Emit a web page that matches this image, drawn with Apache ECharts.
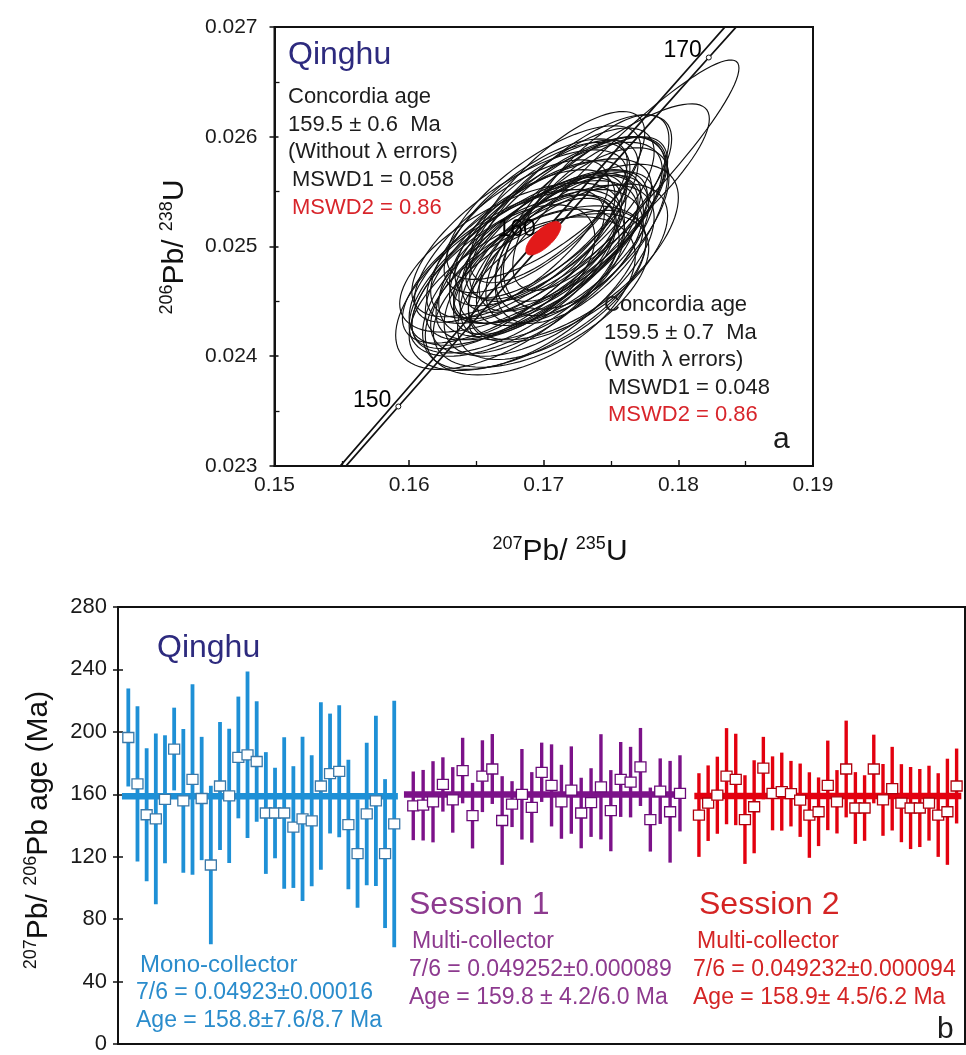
<!DOCTYPE html>
<html><head><meta charset="utf-8">
<script src="https://cdn.jsdelivr.net/npm/echarts@6/dist/echarts.min.js"></script>
<style>html,body{margin:0;padding:0;background:#fff}#c{width:966px;height:1055px}</style>
</head><body><div id="c"></div>
<script>
// ---------- Panel a: concordia diagram data ----------
const xTicksA = [0.15, 0.16, 0.17, 0.18, 0.19];
const yTicksA = [0.023, 0.024, 0.025, 0.026, 0.027];
// concordia curve (207Pb/235U, 206Pb/238U) at ages (Ma)
const concAge = [145, 150, 155, 160, 165, 170, 175];
const concX = [0.15350, 0.15920, 0.16492, 0.17067, 0.17645, 0.18226, 0.18809];
const concY = [0.022748, 0.023542, 0.024335, 0.025131, 0.025926, 0.026722, 0.027519];
// second (decay-constant error) line of the concordia band
const envX = [0.15310, 0.15872, 0.16434, 0.17001, 0.17571, 0.18146, 0.18719];
const envY = [0.022748, 0.023542, 0.024335, 0.025131, 0.025926, 0.026722, 0.027519];
const markAges = [150, 160, 170];
const markX = [0.15920, 0.17067, 0.18226];
const markY = [0.023542, 0.025131, 0.026722];
// analysis error ellipses: centre x, centre y, half-extent x, half-extent y, correlation
const ellCx = [0.1690,0.1700,0.1685,0.1710,0.1695,0.1705,0.1680,0.1715,0.1692,0.1698,
               0.1688,0.1712,0.1720,0.1702,0.1675,0.1683,0.1696,0.1708,0.1725,0.1730,
               0.1678,0.1690,0.1704,0.1716,0.1682,0.1700,0.1710,0.1693,0.1718,0.1686,
               0.1699,0.1712,0.1676,0.1722,0.1694,0.1706,0.1745,0.1728,
               0.1712,0.1722,0.1680,0.1675,0.1690,0.1728,0.1670,0.1735];
const ellCy = [0.02495,0.02505,0.02480,0.02515,0.02490,0.02500,0.02485,0.02520,0.02470,0.02460,
               0.02462,0.02530,0.02535,0.02525,0.02490,0.02500,0.02512,0.02490,0.02510,0.02525,
               0.02475,0.02515,0.02478,0.02498,0.02512,0.02540,0.02545,0.02482,0.02485,0.02468,
               0.02498,0.02505,0.02505,0.02495,0.02528,0.02465,0.02545,0.02532,
               0.02492,0.02505,0.02478,0.02470,0.02455,0.02515,0.02482,0.02540];
const ellSx = [0.0090,0.0088,0.0085,0.0080,0.0075,0.0072,0.0078,0.0076,0.0082,0.0080,
               0.0088,0.0070,0.0075,0.0068,0.0082,0.0070,0.0066,0.0070,0.0068,0.0062,
               0.0076,0.0074,0.0078,0.0066,0.0080,0.0072,0.0065,0.0060,0.0074,0.0070,
               0.0062,0.0060,0.0072,0.0078,0.0068,0.0070,0.0100,0.0095,
               0.0048,0.0052,0.0058,0.0085,0.0078,0.0064,0.0075,0.0058];
const ellSy = [0.00085,0.00090,0.00080,0.00085,0.00075,0.00070,0.00078,0.00080,0.00082,0.00070,
               0.00075,0.00078,0.00085,0.00072,0.00068,0.00070,0.00066,0.00075,0.00080,0.00075,
               0.00072,0.00080,0.00078,0.00070,0.00076,0.00070,0.00078,0.00062,0.00072,0.00066,
               0.00068,0.00064,0.00074,0.00080,0.00070,0.00068,0.00125,0.00098,
               0.00055,0.00062,0.00060,0.00082,0.00072,0.00085,0.00070,0.00080];
const ellRho = [0.70,0.72,0.65,0.70,0.68,0.66,0.72,0.70,0.60,0.55,
                0.58,0.72,0.74,0.70,0.62,0.66,0.68,0.64,0.66,0.70,
                0.64,0.70,0.62,0.68,0.70,0.72,0.75,0.65,0.60,0.60,
                0.66,0.68,0.72,0.62,0.70,0.58,0.94,0.86,
                0.40,0.45,0.50,0.62,0.50,0.60,0.68,0.72];
// concordia age ellipse (red)
const concordiaEll = [0.16997, 0.025075, 0.0013, 0.000152, 0.72];

// ---------- Panel b: 207Pb/206Pb ages ----------
const yTicksB = [0, 40, 80, 120, 160, 200, 240, 280];
const monoAge = [196.4,166.7,146.9,144.2,156.8,189.0,155.8,169.5,157.3,114.7,165.3,159.0,183.6,185.3,181.0,
                 148.0,148.0,148.0,139.0,144.2,143.0,165.3,173.3,174.7,140.6,122.0,147.4,155.8,122.0,141.0];
const monoErr = [31.4,49.7,42.6,54.7,41.0,26.5,46.0,61.0,39.5,50.8,41.0,43.0,39.0,53.3,38.6,
                 39.0,29.0,48.6,39.0,52.6,42.0,53.7,38.4,42.3,41.5,34.7,45.7,54.5,47.7,79.0];
const s1Age = [152.6,153.0,155.2,166.3,156.4,175.2,146.3,171.6,176.2,143.2,153.7,160.0,151.6,174.1,
               165.7,155.2,162.7,148.0,154.7,164.8,149.5,169.5,167.8,177.5,143.8,162.0,148.8,160.6];
const s1Err = [22.0,22.6,26.0,17.4,21.0,21.0,21.0,23.0,22.4,28.4,14.7,29.0,22.6,19.0,
               26.3,23.7,28.0,22.6,22.0,33.7,26.0,24.0,22.6,25.0,20.5,21.0,32.6,24.4];
const s2Age = [146.7,154.3,159.4,171.6,169.5,143.8,152.0,176.8,160.6,161.7,160.4,156.2,146.7,148.8,165.7,
               155.2,176.2,151.2,151.2,176.2,156.4,163.6,154.3,151.2,151.2,154.3,146.7,148.8,165.3];
const s2Err = [26.8,24.2,24.7,30.8,29.3,28.4,29.8,20.0,23.7,25.0,21.0,23.5,27.4,22.0,28.7,
               20.3,31.0,23.0,21.0,22.0,23.0,26.8,25.0,26.3,25.0,24.0,26.8,34.0,24.0];
const meanAges = [158.8, 159.8, 158.9];

// ---------- layout / style ----------
const FF = "'Liberation Sans', Arial, Helvetica, sans-serif";
const BLUE = '#1e90d6', PURPLE = '#7c1289', RED = '#e3000f';
const groups = [
  {age: monoAge, e: monoErr, start: 1.12, step: 0.996, color: BLUE, box: '#3a78a8', lineFrom: 0.43, lineTo: 30.4, mean: meanAges[0], bw: 3.8},
  {age: s1Age, e: s1Err, start: 32.07, step: 1.073, color: PURPLE, box: '#6a0a78', lineFrom: 31.06, lineTo: 61.4, mean: meanAges[1], bw: 3.4},
  {age: s2Age, e: s2Err, start: 63.1, step: 0.9996, color: RED, box: '#b0000c', lineFrom: 62.6, lineTo: 91.6, mean: meanAges[2], bw: 3.4}
];

const chart = echarts.init(document.getElementById('c'), null, {renderer: 'canvas'});

function ellipseRender(fillColor) {
  return function (params, api) {
    const cx = api.value(0), cy = api.value(1), sx = api.value(2), sy = api.value(3), r = api.value(4);
    const q = Math.sqrt(1 - r * r);
    const pts = [];
    for (let k = 0; k < 96; k++) {
      const t = 2 * Math.PI * k / 96;
      pts.push(api.coord([cx + sx * Math.cos(t), cy + sy * (r * Math.cos(t) + q * Math.sin(t))]));
    }
    return {type: 'polygon', shape: {points: pts},
      style: fillColor ? {fill: fillColor, stroke: fillColor, lineWidth: 1} : {fill: 'none', stroke: '#111', lineWidth: 1.15}};
  };
}

const ellData = ellCx.map((v, i) => [v, ellCy[i], ellSx[i], ellSy[i], ellRho[i]]);

const labelOff = {150: [-2, -6], 160: [-12, -2], 170: [-2, -7]};
const markData = markAges.map((a, i) => ({
  value: [markX[i], markY[i]],
  label: {show: true, formatter: String(a), position: 'left', distance: 2, offset: labelOff[a],
          fontSize: 23, fontFamily: FF, color: '#000', opacity: 1}
}));

const series = [
  {type: 'custom', xAxisIndex: 0, yAxisIndex: 0, renderItem: ellipseRender(null), data: ellData,
   encode: {x: 0, y: 1}, z: 2, silent: true},
  {type: 'line', xAxisIndex: 0, yAxisIndex: 0, data: concX.map((v, i) => [v, concY[i]]), showSymbol: false,
   lineStyle: {color: '#111', width: 1.8}, z: 3, clip: true, silent: true},
  {type: 'line', xAxisIndex: 0, yAxisIndex: 0, data: envX.map((v, i) => [v, envY[i]]), showSymbol: false,
   lineStyle: {color: '#111', width: 1.8}, z: 3, clip: true, silent: true},
  {type: 'scatter', xAxisIndex: 0, yAxisIndex: 0, data: markData, symbol: 'circle', symbolSize: 5,
   itemStyle: {color: '#fff', borderColor: '#111', borderWidth: 1, opacity: 1}, z: 4, silent: true},
  {type: 'custom', xAxisIndex: 0, yAxisIndex: 0, renderItem: ellipseRender('#e21a1a'), data: [concordiaEll],
   encode: {x: 0, y: 1}, z: 5, silent: true}
];

groups.forEach((g) => {
  const data = g.age.map((v, i) => [g.start + i * g.step, v, g.e[i]]);
  series.push({type: 'custom', xAxisIndex: 1, yAxisIndex: 2, data, encode: {x: 0, y: 1}, z: 2, silent: true,
    renderItem: (params, api) => {
      const x = api.value(0), v = api.value(1), e = api.value(2);
      const a = api.coord([x, v + e]), b = api.coord([x, v - e]);
      return {type: 'line', shape: {x1: a[0], y1: a[1], x2: b[0], y2: b[1]}, style: {stroke: g.color, lineWidth: g.bw}};
    }});
  series.push({type: 'line', xAxisIndex: 1, yAxisIndex: 2, data: [[g.lineFrom, g.mean], [g.lineTo, g.mean]],
    showSymbol: false, lineStyle: {color: g.color, width: 6.5}, z: 3, silent: true});
  series.push({type: 'custom', xAxisIndex: 1, yAxisIndex: 2, data, encode: {x: 0, y: 1}, z: 4, silent: true,
    renderItem: (params, api) => {
      const c = api.coord([api.value(0), api.value(1)]);
      return {type: 'rect', shape: {x: c[0] - 5.5, y: c[1] - 5, width: 11, height: 10},
              style: {fill: '#fff', stroke: g.box, lineWidth: 1.3}};
    }});
});

function T(x, y, text, size, color, extra) {
  return Object.assign({type: 'text', x, y, z: 100, silent: true,
    style: {text, fontSize: size, fontFamily: FF, fill: color, align: 'left', verticalAlign: 'middle',
            textAlign: 'left', textVerticalAlign: 'middle'}}, extra || {});
}
function titleText(x, y, rich, rot) {
  return {type: 'text', x, y, rotation: rot || 0, z: 100, silent: true,
    style: {text: rich, align: 'center', verticalAlign: 'middle', textAlign: 'center', textVerticalAlign: 'middle',
      rich: {
        s: {fontSize: 18, fontFamily: FF, fill: '#111', lineHeight: 18, padding: [0, 0, 14, 0], verticalAlign: 'bottom'},
        m: {fontSize: 30, fontFamily: FF, fill: '#111', lineHeight: 36, verticalAlign: 'bottom'}
      }}};
}

const DARK = '#1c1c1c', NAVY = '#2d2a7e', MRED = '#d8252b';
const S1C = '#8d3a8f', S2C = '#d42424', MONOC = '#2a8ccc';
const graphics = [
  // panel a texts
  T(288, 55, 'Qinghu', 32, NAVY),
  T(288, 97, 'Concordia age', 22, DARK),
  T(288, 125, '159.5 ± 0.6  Ma', 22, DARK),
  T(288, 152, '(Without λ errors)', 22, DARK),
  T(292, 180, 'MSWD1 = 0.058', 22, DARK),
  T(292, 208, 'MSWD2 = 0.86', 22, MRED),
  T(604, 305, 'Concordia age', 22, DARK),
  T(604, 333, '159.5 ± 0.7  Ma', 22, DARK),
  T(604, 360, '(With λ errors)', 22, DARK),
  T(608, 388, 'MSWD1 = 0.048', 22, DARK),
  T(608, 415, 'MSWD2 = 0.86', 22, MRED),
  T(773, 440, 'a', 30, DARK),
  titleText(172, 247, '{s|206}{m|Pb/ }{s|238}{m|U}', Math.PI / 2),
  titleText(560, 549, '{s|207}{m|Pb/ }{s|235}{m|U}', 0),
  // panel b texts
  T(157, 648, 'Qinghu', 32, NAVY),
  T(140, 965, 'Mono-collector', 24, MONOC),
  T(136, 993, '7/6 = 0.04923±0.00016', 23, MONOC),
  T(136, 1021, 'Age = 158.8±7.6/8.7 Ma', 23, MONOC),
  T(409, 905, 'Session 1', 32, S1C),
  T(412, 942, 'Multi-collector', 23, S1C),
  T(409, 970, '7/6 = 0.049252±0.000089', 23, S1C),
  T(409, 998, 'Age = 159.8 ± 4.2/6.0 Ma', 23, S1C),
  T(699, 905, 'Session 2', 32, S2C),
  T(697, 942, 'Multi-collector', 23, S2C),
  T(693, 970, '7/6 = 0.049232±0.000094', 23, S2C),
  T(693, 998, 'Age = 158.9± 4.5/6.2 Ma', 23, S2C),
  T(937, 1030, 'b', 30, DARK),
  titleText(36, 830, '{s|207}{m|Pb/ }{s|206}{m|Pb age (Ma)}', Math.PI / 2)
];

const axLine = {show: true, lineStyle: {color: '#111', width: 2}};
const option = {
  backgroundColor: '#fff',
  animation: false,
  grid: [
    {left: 274.5, top: 27, width: 538.5, height: 439, show: true, borderColor: '#111', borderWidth: 2, backgroundColor: 'transparent'},
    {left: 118, top: 607, width: 847, height: 443, show: true, borderColor: '#111', borderWidth: 2, backgroundColor: 'transparent'}
  ],
  xAxis: [
    {type: 'value', gridIndex: 0, min: xTicksA[0], max: xTicksA[xTicksA.length - 1], interval: 0.01,
     axisLine: axLine, splitLine: {show: false},
     axisTick: {show: true, inside: true, length: 6, lineStyle: {color: '#111', width: 1.5}},
     minorTick: {show: true, splitNumber: 2, length: 5, lineStyle: {color: '#111', width: 1.3}},
     axisLabel: {fontSize: 21, fontFamily: FF, color: '#1a1a1a', margin: 9, formatter: v => v.toFixed(2)}},
    {type: 'value', gridIndex: 1, min: 0, max: 92, axisLine: axLine, splitLine: {show: false},
     axisTick: {show: false}, axisLabel: {show: false}}
  ],
  yAxis: [
    {type: 'value', gridIndex: 0, min: yTicksA[0], max: yTicksA[yTicksA.length - 1], interval: 0.001,
     axisLine: axLine, splitLine: {show: false},
     axisTick: {show: true, inside: false, length: 5, lineStyle: {color: '#111', width: 1.5}},
     axisLabel: {fontSize: 21, fontFamily: FF, color: '#1a1a1a', margin: 17, formatter: v => v.toFixed(3)}},
    {type: 'value', gridIndex: 0, position: 'left', min: yTicksA[0], max: yTicksA[yTicksA.length - 1], interval: 0.001,
     axisLine: {show: false}, splitLine: {show: false}, axisLabel: {show: false},
     axisTick: {show: true, inside: true, length: 4, lineStyle: {color: '#111', width: 1.5}},
     minorTick: {show: true, splitNumber: 2, length: 5, lineStyle: {color: '#111', width: 1.3}}},
    {type: 'value', gridIndex: 1, min: yTicksB[0], max: yTicksB[yTicksB.length - 1], interval: 40,
     axisLine: axLine, splitLine: {show: false},
     axisTick: {show: true, inside: false, length: 5, lineStyle: {color: '#111', width: 1.5}},
     axisLabel: {fontSize: 22, fontFamily: FF, color: '#1a1a1a', margin: 11}},
    {type: 'value', gridIndex: 1, position: 'left', min: yTicksB[0], max: yTicksB[yTicksB.length - 1], interval: 40,
     axisLine: {show: false}, splitLine: {show: false}, axisLabel: {show: false},
     axisTick: {show: true, inside: true, length: 5, lineStyle: {color: '#111', width: 1.5}}}
  ],
  series,
  graphic: graphics
};
chart.setOption(option);
</script></body></html>
